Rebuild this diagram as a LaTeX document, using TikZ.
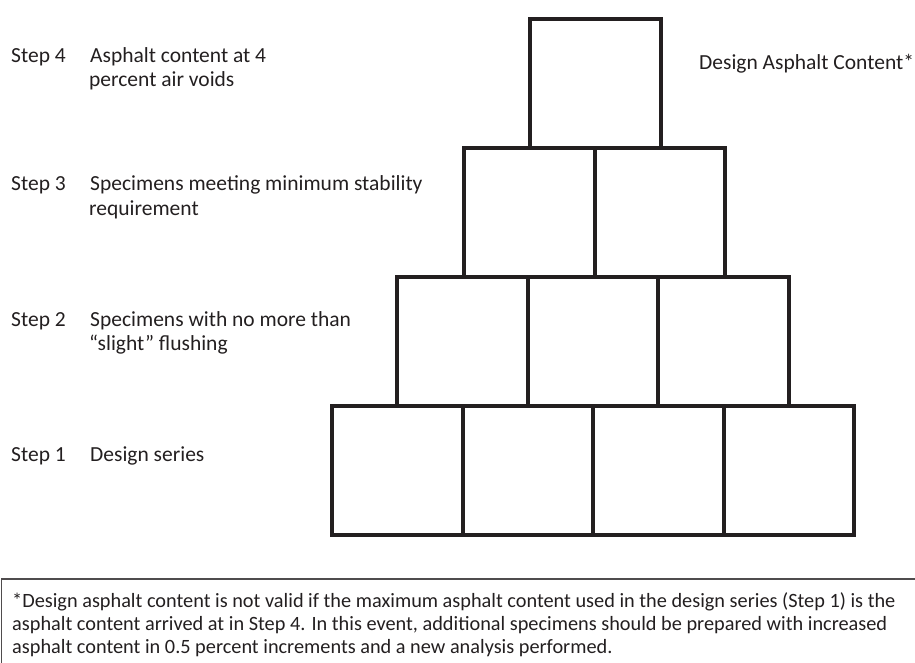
\documentclass[tikz,border=0pt]{standalone}
\usepackage{fontspec}
\setmainfont{Carlito}
\definecolor{ink}{HTML}{231F20}
\begin{document}
\begin{tikzpicture}[x=1pt,y=-1pt,
  cell/.style={draw=ink, line width=4.2pt, minimum width=130.5pt, minimum height=129pt, anchor=north west, inner sep=0pt},
  lbl/.style={anchor=base west, inner sep=0pt, text=ink, font=\fontsize{21.5}{25}\selectfont},
  note/.style={anchor=base west, inner sep=0pt, text=ink, font=\fontsize{20.3}{23}\selectfont}]
\useasboundingbox (0,0) rectangle (915,662);
\clip (0,0) rectangle (915,662);
% row 1
\node[cell] (r1a) at (330,404) {};
\node[cell] (r1b) at (460.5,404) {};
\node[cell] (r1c) at (591,404) {};
\node[cell] (r1d) at (721.5,404) {};
% row 2
\node[cell] (r2a) at (395.25,275) {};
\node[cell] (r2b) at (525.75,275) {};
\node[cell] (r2c) at (656.25,275) {};
% row 3
\node[cell] (r3a) at (462,146) {};
\node[cell] (r3b) at (592.5,146) {};
% top
\node[cell] (r4a) at (528,17) {};
% labels
\node[lbl] (s4) at (11,62) {Step 4};
\node[lbl] (s4a) at (90,62) {Asphalt content at 4};
\node[lbl] (s4b) at (89,86) {percent air voids};
\node[lbl] (s3) at (11,190) {Step 3};
\node[lbl] (s3a) at (90,190) {Specimens meeting minimum stability};
\node[lbl] (s3b) at (89,215) {requirement};
\node[lbl] (s2) at (11,326) {Step 2};
\node[lbl] (s2a) at (90,326) {Specimens with no more than};
\node[lbl] (s2b) at (89,350) {“slight” flushing};
\node[lbl] (s1) at (11,461) {Step 1};
\node[lbl] (s1a) at (90,461) {Design series};
\node[lbl] (dac) at (699,69) {Design Asphalt Content*};
% footnote box
\draw[draw=ink!80, line width=1.5pt] (1.5,579) rectangle (930,700);
\node[note] (n1) at (12,607) {*Design asphalt content is not valid if the maximum asphalt content used in the design series (Step 1) is the};
\node[note] (n2) at (12,630) {asphalt content arrived at in Step 4. In this event, additional specimens should be prepared with increased};
\node[note] (n3) at (12,653) {asphalt content in 0.5 percent increments and a new analysis performed.};
\end{tikzpicture}
\end{document}
